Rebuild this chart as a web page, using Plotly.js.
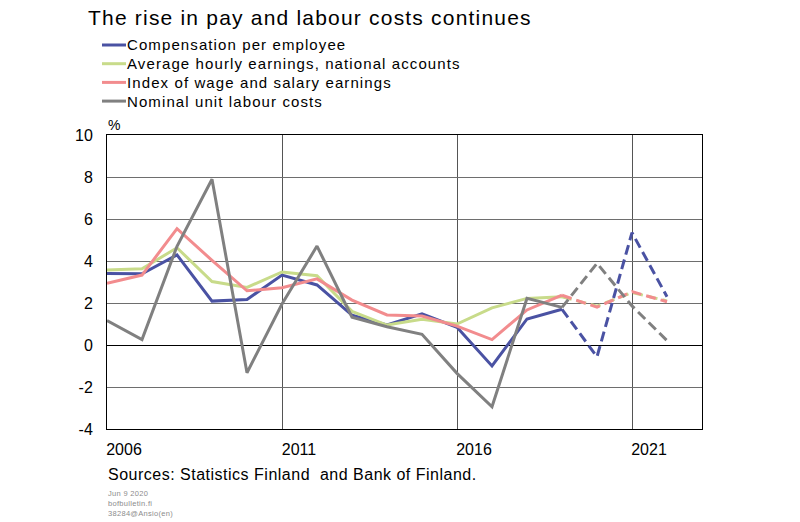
<!DOCTYPE html>
<html>
<head>
<meta charset="utf-8">
<script src="https://cdn.plot.ly/plotly-3.0.1.min.js"></script>
<style>
  body { margin: 0; background: #fff; }
  #chart { width: 800px; height: 522px; }
  /* the source chart sets its text with loose letter spacing */
  #chart .gtitle { letter-spacing: 1.2px; }
  #chart .annotation[data-index="1"] text,
  #chart .annotation[data-index="2"] text,
  #chart .annotation[data-index="3"] text,
  #chart .annotation[data-index="4"] text { letter-spacing: 1.1px; }
  #chart .annotation[data-index="5"] text { letter-spacing: 0.5px; }
  #chart .annotation[data-index="6"] text { letter-spacing: 0.3px; }
</style>
</head>
<body>
<div id="chart"></div>
<script>
// annual % change, 2020-2022 forecast (dashed)
const years = [2006, 2007, 2008, 2009, 2010, 2011, 2012, 2013, 2014, 2015, 2016, 2017, 2018, 2019, 2020, 2021, 2022];
const compensation = [3.41, 3.39, 4.29, 2.09, 2.17, 3.33, 2.86, 1.42, 0.95, 1.48, 0.84, -1.0, 1.24, 1.7, -0.56, 5.35, 2.3];
const hourlyEarnings = [3.57, 3.63, 4.63, 3.02, 2.74, 3.48, 3.3, 1.6, 0.95, 1.22, 1.0, 1.77, 2.22, 2.3, 1.85, 2.5, 2.1];
const wageIndex = [2.94, 3.33, 5.54, 4.03, 2.58, 2.73, 3.15, 2.14, 1.43, 1.38, 0.9, 0.26, 1.67, 2.37, 1.8, 2.54, 2.06];
const unitLabourCosts = [1.16, 0.26, 4.7, 7.89, -1.32, 1.95, 4.71, 1.32, 0.87, 0.51, -1.35, -2.94, 2.22, 1.79, 3.89, 1.86, 0.21];
const lastActual = 2019;

const seriesNames = ["Compensation per employee", "Average hourly earnings, national accounts", "Index of wage and salary earnings", "Nominal unit labour costs"];
const seriesValues = [compensation, hourlyEarnings, wageIndex, unitLabourCosts];
const colors = ["#4a52a3", "#c8db8a", "#f28c8e", "#808080"];

const xTicks = [2006, 2011, 2016, 2021];
const yTicks = [-4, -2, 0, 2, 4, 6, 8, 10];
const yTickText = ["-4", "-2", "0", "2", "4", "6", "8", "10"];

const font = "Liberation Sans, Arial, sans-serif";

// plot box in pixels (800x522 page)
const W = 800, H = 522;
const M = { l: 107, r: 98, t: 135, b: 93 };
const pw = W - M.l - M.r, ph = H - M.t - M.b;
const px = x => (x - M.l) / pw;        // page px -> paper x
const py = y => 1 - (y - M.t) / ph;    // page px -> paper y

var data = [];
seriesValues.forEach((vals, i) => {
    // actual data, solid
    data.push({
        x: years.filter(y => y <= lastActual),
        y: vals.filter((v, j) => years[j] <= lastActual),
        type: "scatter",
        mode: "lines",
        name: seriesNames[i],
        showlegend: false,
        line: { color: colors[i], width: 3 }
    });
});
seriesValues.forEach((vals, i) => {
    // forecast, dashed
    data.push({
        x: years.filter(y => y >= lastActual),
        y: vals.filter((v, j) => years[j] >= lastActual),
        type: "scatter",
        mode: "lines",
        showlegend: false,
        line: { color: colors[i], width: 3, dash: "10px,5px" }
    });
});

// legend drawn by hand so the rows sit as tight as in the original
const legendTop = 45, legendStep = 18.7;
var shapes = [];
var annotations = [
    {
        text: "%", showarrow: false,
        xref: "paper", yref: "paper",
        x: px(114), y: py(125), xanchor: "center", yanchor: "middle",
        font: { family: font, size: 14, color: "#000" }
    }
];
seriesNames.forEach((name, i) => {
    var yy = py(legendTop + i * legendStep);
    shapes.push({
        type: "line", xref: "paper", yref: "paper",
        x0: px(102), x1: px(126), y0: yy, y1: yy,
        line: { color: colors[i], width: 3 }
    });
    annotations.push({
        text: name, showarrow: false, align: "left",
        xref: "paper", yref: "paper",
        x: px(125), y: yy, xanchor: "left", yanchor: "middle",
        font: { family: font, size: 15, color: "#000" }
    });
});
annotations.push({
    text: "Sources: Statistics Finland  and Bank of Finland.", showarrow: false, align: "left",
    xref: "paper", yref: "paper",
    x: px(106), y: py(474), xanchor: "left", yanchor: "middle",
    font: { family: font, size: 16, color: "#000" }
});
annotations.push({
    text: "Jun 9 2020<br>bofbulletin.fi<br>38284@Ansio(en)", showarrow: false,
    xref: "paper", yref: "paper", align: "left",
    x: px(106), y: py(487), xanchor: "left", yanchor: "top",
    font: { family: font, size: 7.5, color: "#8c8c8c" }
});

var layout = {
    width: W,
    height: H,
    margin: { l: M.l, r: M.r, t: M.t, b: M.b, autoexpand: false },
    paper_bgcolor: "#fff",
    plot_bgcolor: "#fff",
    font: { family: font, color: "#000", size: 16 },
    title: {
        text: "The rise in pay and labour costs continues",
        font: { family: font, size: 21, color: "#000" },
        xref: "container", yref: "container",
        x: 88 / W, xanchor: "left",
        y: 1 - 18 / H, yanchor: "middle"
    },
    showlegend: false,
    xaxis: {
        range: [2006, 2023],
        tickvals: xTicks,
        ticktext: xTicks.map(String),
        ticks: "",
        ticklabelshift: 17,
        ticklabelstandoff: 6,
        showgrid: true,
        gridcolor: "#555",
        gridwidth: 1,
        showline: true,
        linecolor: "#000",
        linewidth: 1,
        mirror: true,
        zeroline: false,
        tickfont: { family: font, size: 16, color: "#000" }
    },
    yaxis: {
        range: [-4, 10],
        tickvals: yTicks,
        ticktext: yTickText,
        ticks: "",
        ticklabelstandoff: 10,
        showgrid: true,
        gridcolor: "#6e6e6e",
        gridwidth: 1,
        zeroline: true,
        zerolinecolor: "#000",
        zerolinewidth: 1,
        showline: true,
        linecolor: "#000",
        linewidth: 1,
        mirror: true,
        tickfont: { family: font, size: 16, color: "#000" }
    },
    shapes: shapes,
    annotations: annotations
};

Plotly.newPlot("chart", data, layout, { displayModeBar: false, staticPlot: true });
</script>
</body>
</html>
